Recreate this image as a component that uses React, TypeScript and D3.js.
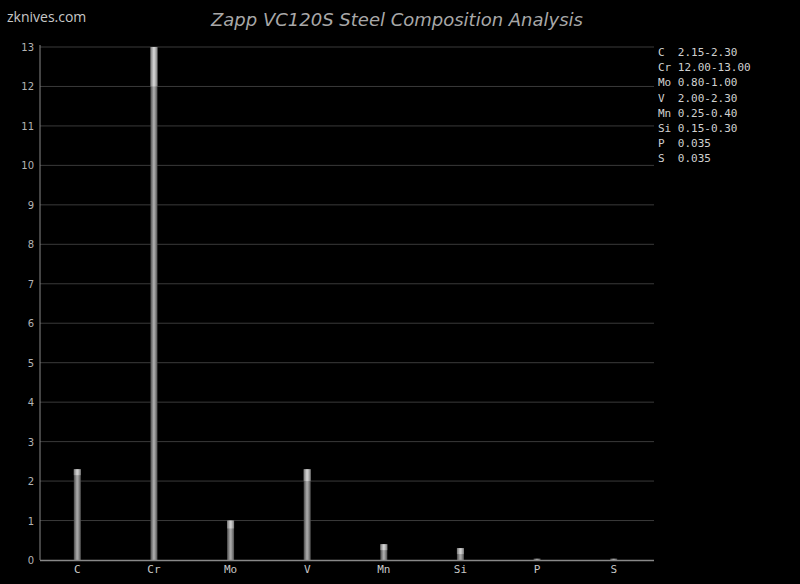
import React from "react";
import * as d3 from "d3";

const elements = ["C", "Cr", "Mo", "V", "Mn", "Si", "P", "S"];
const minValues = [2.15, 12.0, 0.8, 2.0, 0.25, 0.15, 0.0, 0.0];
const maxValues = [2.3, 13.0, 1.0, 2.3, 0.4, 0.3, 0.035, 0.035];
const legendLabels = [
  "C  2.15-2.30",
  "Cr 12.00-13.00",
  "Mo 0.80-1.00",
  "V  2.00-2.30",
  "Mn 0.25-0.40",
  "Si 0.15-0.30",
  "P  0.035",
  "S  0.035",
];
const yTicks = [0, 1, 2, 3, 4, 5, 6, 7, 8, 9, 10, 11, 12, 13];

export default function App() {
  const W = 800, H = 584;
  const left = 40, right = 654, top = 47, bottom = 560;
  const x = d3.scaleBand<string>().domain(elements).range([left - 1, right - 2]);
  const y = d3.scaleLinear().domain([0, 13]).range([bottom, top]);
  const bw = 7;
  const mono = "'DejaVu Sans Mono', 'Liberation Mono', monospace";
  return (
    <svg width={W} height={H} style={{ position: "absolute", left: 0, top: 0, background: "#000" }}>
      <defs>
        <linearGradient id="gBar" x1="0" x2="1" y1="0" y2="0">
          <stop offset="0" stopColor="#4a4a4a" />
          <stop offset="0.45" stopColor="#aaaaaa" />
          <stop offset="0.6" stopColor="#a0a0a0" />
          <stop offset="1" stopColor="#505050" />
        </linearGradient>
        <linearGradient id="gTop" x1="0" x2="1" y1="0" y2="0">
          <stop offset="0" stopColor="#777" />
          <stop offset="0.45" stopColor="#d2d2d2" />
          <stop offset="0.6" stopColor="#cacaca" />
          <stop offset="1" stopColor="#7c7c7c" />
        </linearGradient>
      </defs>
      <rect x={0} y={0} width={W} height={H} fill="#000" />
      <text x={7} y={22} fill="#c8c8c8" fontSize={14} fontFamily="'Open Sans', 'DejaVu Sans', sans-serif">zknives.com</text>
      <text x={397} y={26} textAnchor="middle" fill="#a8a8a8" fontSize={18} fontStyle="italic" fontFamily="'DejaVu Sans', sans-serif">Zapp VC120S Steel Composition Analysis</text>
      {yTicks.map((t) => (
        <g key={t}>
          {t > 0 && <line x1={left} x2={right} y1={y(t)} y2={y(t)} stroke="#3a3a3a" strokeWidth={1} />}
          <text x={34} y={y(t) + 4} textAnchor="end" fill="#b4b4b4" fontSize={10} fontFamily="'DejaVu Sans', sans-serif">{t}</text>
        </g>
      ))}
      {elements.map((e, i) => {
        const cx = (x(e) as number) + x.bandwidth() / 2;
        const yMax = y(maxValues[i]);
        const yMin = y(minValues[i]);
        return (
          <g key={e}>
            <rect x={cx - bw / 2} y={yMax} width={bw} height={bottom - yMax} fill="url(#gBar)" />
            {minValues[i] > 0 && (
              <rect x={cx - bw / 2} y={yMax} width={bw} height={yMin - yMax} fill="url(#gTop)" />
            )}
            <text x={cx} y={573} textAnchor="middle" fill="#c8c8c8" fontSize={11} fontFamily={mono}>{e}</text>
          </g>
        );
      })}
      <line x1={left} x2={left} y1={top - 2} y2={bottom} stroke="#888" strokeWidth={1} />
      <line x1={left} x2={right} y1={bottom + 0.5} y2={bottom + 0.5} stroke="#888" strokeWidth={1.5} />
      {legendLabels.map((l, i) => (
        <text key={l} x={658} y={56 + i * 15.2} fill="#d0d0d0" fontSize={11} fontFamily={mono} style={{ whiteSpace: "pre" }}>{l}</text>
      ))}
    </svg>
  );
}
